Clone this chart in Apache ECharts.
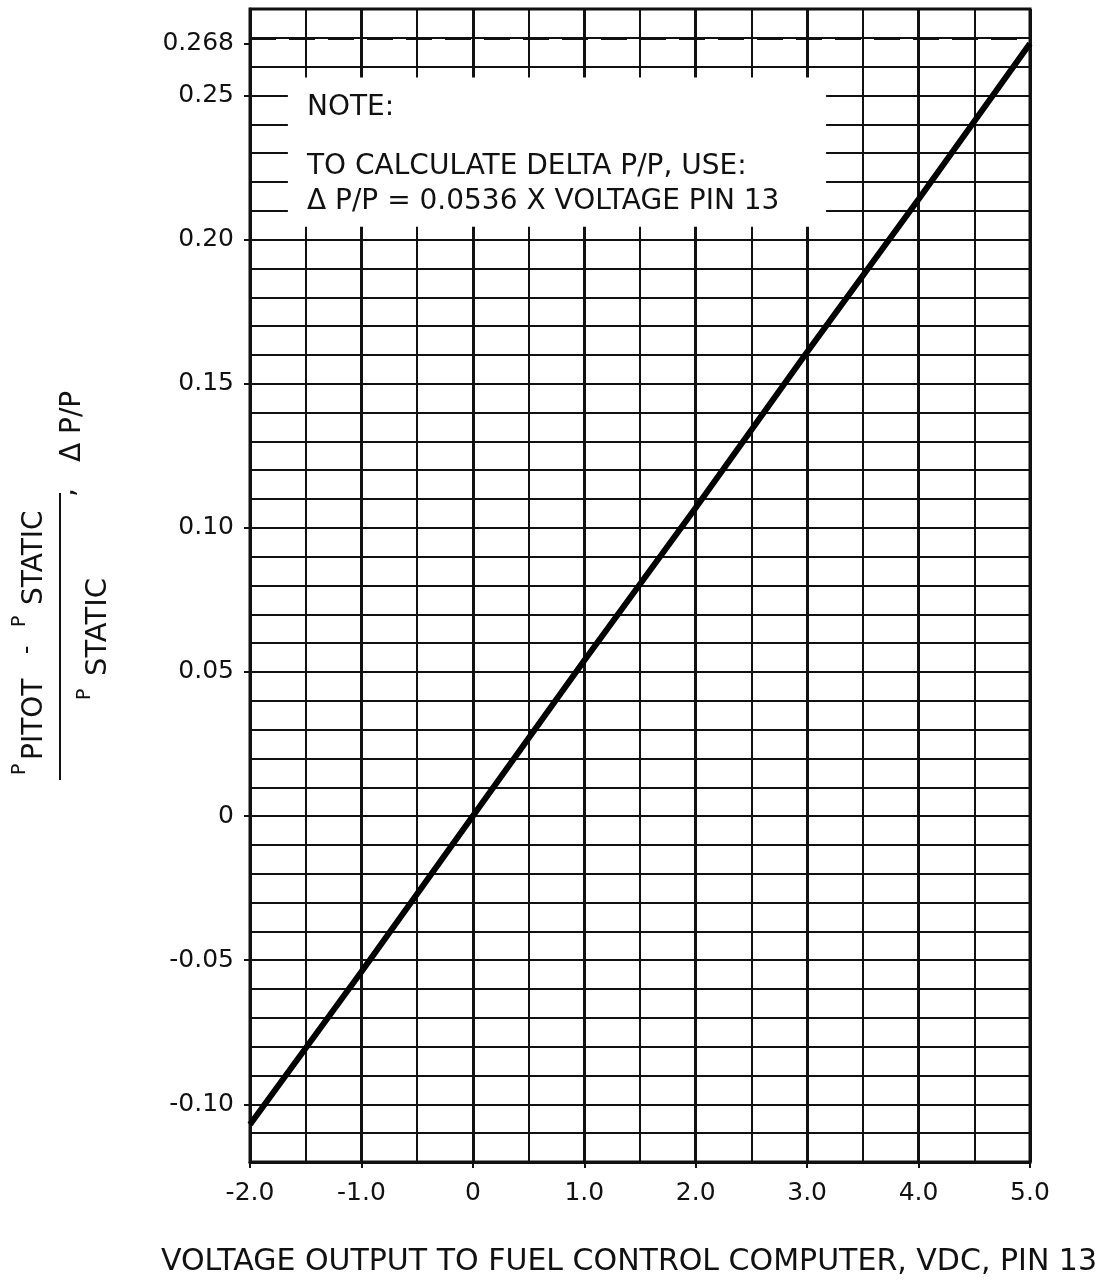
<!DOCTYPE html>
<html>
<head>
<meta charset="utf-8">
<script src="https://cdn.jsdelivr.net/npm/echarts@6/dist/echarts.min.js"></script>
<style>
  html, body { margin: 0; background: #fff; }
  #chart { width: 1104px; height: 1287px; }
</style>
</head>
<body>
<div id="chart"></div>
<script>
// values
var voltage = [-2, -1, 0, 1, 2, 3, 4, 5];
var deltaPP = [-0.107, -0.054, 0, 0.054, 0.107, 0.161, 0.214, 0.268];
var yLabelValues = [-0.10, -0.05, 0, 0.05, 0.10, 0.15, 0.20, 0.25, 0.268];
var limitValue = 0.268;
var noteLines = ['NOTE:', 'TO CALCULATE DELTA P/P, USE:', 'Δ P/P = 0.0536 X VOLTAGE PIN 13'];
var xTitle = 'VOLTAGE OUTPUT TO FUEL CONTROL COMPUTER, VDC, PIN 13';

// white box behind the note, in data units
var noteBox = { x0: -1.66, y0: 0.2562, x1: 3.17, y1: 0.2045 };

var font = '"DejaVu Sans"';
var ink = '#111';
var yMin = -0.12, yMax = 0.28;

function txt(x, y, text, size, extra) {
  var style = { text: text, fontSize: size, fontFamily: font, fill: ink, verticalAlign: 'middle' };
  for (var k in extra) style[k] = extra[k];
  return { type: 'text', x: x, y: y, z: 100, style: style, silent: true };
}

var chart = echarts.init(document.getElementById('chart'));

var option = {
  backgroundColor: '#fff',
  animation: false,
  grid: {
    left: 250, right: 74, top: 9, bottom: 125,
    show: true, borderColor: ink, borderWidth: 3
  },
  xAxis: {
    type: 'value', min: -2, max: 5, interval: 1,
    axisLine: { show: true, onZero: false, lineStyle: { color: ink, width: 3 } },
    axisTick: { show: true, length: 6, lineStyle: { color: ink, width: 2 } },
    axisLabel: {
      margin: 19, fontSize: 25, fontFamily: font, color: ink,
      formatter: function (v) { return v === 0 ? '0' : v.toFixed(1); }
    },
    splitLine: { show: true, lineStyle: { color: ink, width: 3 } },
    minorTick: { show: false, splitNumber: 2 },
    minorSplitLine: { show: true, lineStyle: { color: ink, width: 2 } }
  },
  yAxis: [{
    // grid lines every 0.01
    type: 'value', min: yMin, max: yMax, interval: 0.01,
    axisLine: { show: true, onZero: false, lineStyle: { color: ink, width: 3 } },
    axisTick: { show: false },
    axisLabel: { show: false },
    splitLine: { show: true, lineStyle: { color: ink, width: 2 } }
  }, {
    // labelled ticks
    type: 'value', min: yMin, max: yMax, position: 'left', offset: 0,
    axisLine: { show: false, onZero: false },
    axisTick: { show: true, length: 6, customValues: yLabelValues, lineStyle: { color: ink, width: 2 } },
    axisLabel: {
      customValues: yLabelValues,
      margin: 16, fontSize: 25, fontFamily: font, color: ink,
      formatter: function (v) {
        if (Math.abs(v) < 1e-9) return '0';
        var third = Math.abs(v * 100 - Math.round(v * 100)) > 1e-6;
        return v.toFixed(third ? 3 : 2);
      }
    },
    splitLine: { show: false }
  }],
  series: [{
    type: 'line',
    data: voltage.map(function (v, i) { return [v, deltaPP[i]]; }),
    symbol: 'none',
    lineStyle: { color: '#000', width: 6 },
    markLine: {
      silent: true, symbol: 'none',
      label: { show: false },
      lineStyle: { color: ink, width: 3, type: [26, 13] },
      data: [{ yAxis: limitValue }]
    },
    markArea: {
      silent: true,
      itemStyle: { color: '#fff' },
      data: [[{ coord: [noteBox.x0, noteBox.y0] }, { coord: [noteBox.x1, noteBox.y1] }]]
    }
  }],
  graphic: [
    txt(307, 108, noteLines[0], 28),
    txt(307, 167, noteLines[1], 28),
    txt(307, 202, noteLines[2], 28),
    txt(629, 1262, xTitle, 30, { align: 'center' }),
    {
      // rotated y-axis title: (P_PITOT - P_STATIC) / P_STATIC , ΔP/P
      type: 'group', x: 0, y: 780, rotation: Math.PI / 2, silent: true, z: 100,
      children: [
        txt(5, 20, 'P', 19),
        txt(20, 35, 'PITOT', 28),
        txt(130, 28, '-', 24, { align: 'center' }),
        txt(153, 20, 'P', 19),
        txt(175, 35, 'STATIC', 28),
        { type: 'line', z: 100, shape: { x1: 0, y1: 60, x2: 287, y2: 60 }, style: { stroke: ink, lineWidth: 2 } },
        txt(80, 85, 'P', 19),
        txt(104, 98, 'STATIC', 29),
        txt(283, 67, ',', 28),
        txt(318, 73, 'Δ P/P', 28)
      ]
    }
  ]
};

chart.setOption(option);
</script>
</body>
</html>
